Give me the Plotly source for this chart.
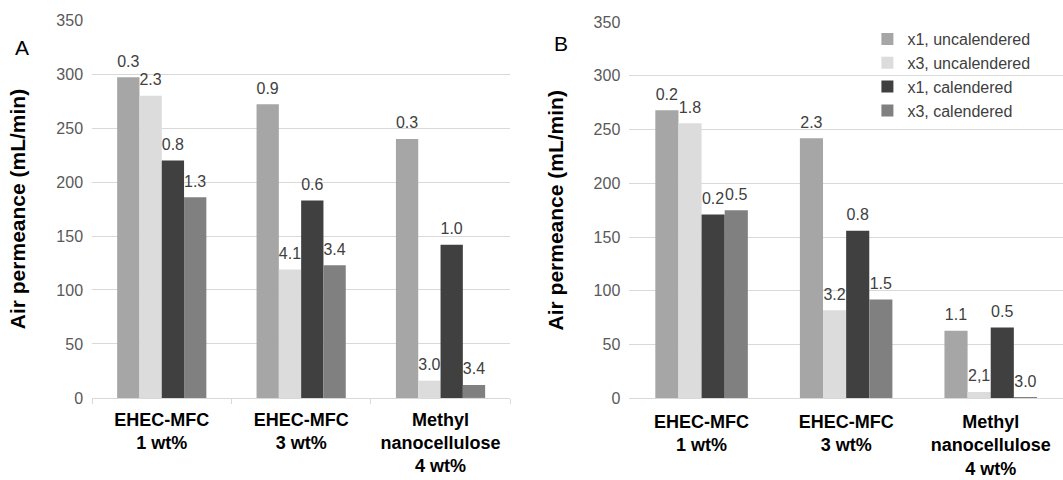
import plotly.graph_objects as go

categories = ["<b>EHEC-MFC<br>1 wt%</b>", "<b>EHEC-MFC<br>3 wt%</b>", "<b>Methyl<br>nanocellulose<br>4 wt%</b>"]
series_names = ["x1, uncalendered", "x3, uncalendered", "x1, calendered", "x3, calendered"]
colors = ["#a6a6a6", "#dcdcdc", "#404040", "#808080"]

# Panel A values
a_vals = [
    [297, 272, 240],
    [280, 119, 16],
    [220, 183, 142],
    [186, 123, 12],
]
a_labels = [
    ["0.3", "0.9", "0.3"],
    ["2.3", "4.1", "3.0"],
    ["0.8", "0.6", "1.0"],
    ["1.3", "3.4", "3.4"],
]
# Panel B values
b_vals = [
    [268, 242, 63],
    [256, 82, 6],
    [171, 156, 66],
    [175, 92, 1],
]
b_labels = [
    ["0.2", "2.3", "1.1"],
    ["1.8", "3.2", "2,1"],
    ["0.2", "0.8", "0.5"],
    ["0.5", "1.5", "3.0"],
]
y_ticks = [0, 50, 100, 150, 200, 250, 300, 350]

FONT = "Liberation Sans, Arial, sans-serif"


def lift(labels):
    # label on first line, transparent small spacer line below to lift it off the bar
    return [f"<span style='font-size:16px'>{t}</span><br><span style='color:rgba(0,0,0,0)'>.</span>"
            for t in labels]


fig = go.Figure()
for i in range(4):
    fig.add_trace(go.Bar(
        x=categories, y=a_vals[i], name=series_names[i], marker_color=colors[i],
        marker_line_width=0, text=lift(a_labels[i]), textposition="outside",
        textfont=dict(size=5, color="#404040", family=FONT),
        cliponaxis=False, showlegend=False, xaxis="x", yaxis="y",
    ))
for i in range(4):
    fig.add_trace(go.Bar(
        x=categories, y=b_vals[i], name=series_names[i], marker_color=colors[i],
        marker_line_width=0, text=lift(b_labels[i]), textposition="outside",
        textfont=dict(size=5, color="#404040", family=FONT),
        cliponaxis=False, showlegend=True, xaxis="x2", yaxis="y2",
    ))

yax = dict(range=[0, 350], tickvals=y_ticks, showgrid=True, gridcolor="#d9d9d9",
           gridwidth=1, zeroline=False, showline=False, automargin=False,
           ticklabelstandoff=8,
           tickfont=dict(size=16, color="#595959", family=FONT),
           title=dict(text="<b>Air permeance (mL/min)</b>",
                      font=dict(size=21, color="#000000", family=FONT), standoff=24))
xax = dict(showline=True, linecolor="#d9d9d9", linewidth=1, automargin=False,
           tickfont=dict(size=18, color="#000000", family=FONT),
           tickson="boundaries", ticks="outside", ticklen=5, tickcolor="#d9d9d9",
           ticklabelstandoff=5)

fig.update_layout(
    width=1063, height=480,
    margin=dict(l=0, r=0, t=0, b=0),
    paper_bgcolor="white", plot_bgcolor="white",
    barmode="group", bargap=0.36, bargroupgap=0,
    xaxis=dict(domain=[0.0866, 0.48], anchor="y", **xax),
    yaxis=dict(domain=[0.171, 0.958], anchor="x", **yax),
    xaxis2=dict(domain=[0.592, 1.0], anchor="y2", **{**xax, "ticks": "", "ticklabelstandoff": 7}),
    yaxis2=dict(domain=[0.17, 0.954], anchor="x2", **yax),
    legend=dict(x=0.816, y=0.954, xanchor="left", yanchor="top",
                font=dict(size=16, color="#404040", family=FONT),
                bgcolor="rgba(0,0,0,0)", itemwidth=30, tracegroupgap=0),
    annotations=[
        dict(text="A", x=0.012, y=0.902, xref="paper", yref="paper", showarrow=False,
             xanchor="left", yanchor="middle", font=dict(size=21, color="#000000", family=FONT)),
        dict(text="B", x=0.519, y=0.910, xref="paper", yref="paper", showarrow=False,
             xanchor="left", yanchor="middle", font=dict(size=21, color="#000000", family=FONT)),
    ],
    font=dict(family=FONT),
)

fig.write_html("out.html")
